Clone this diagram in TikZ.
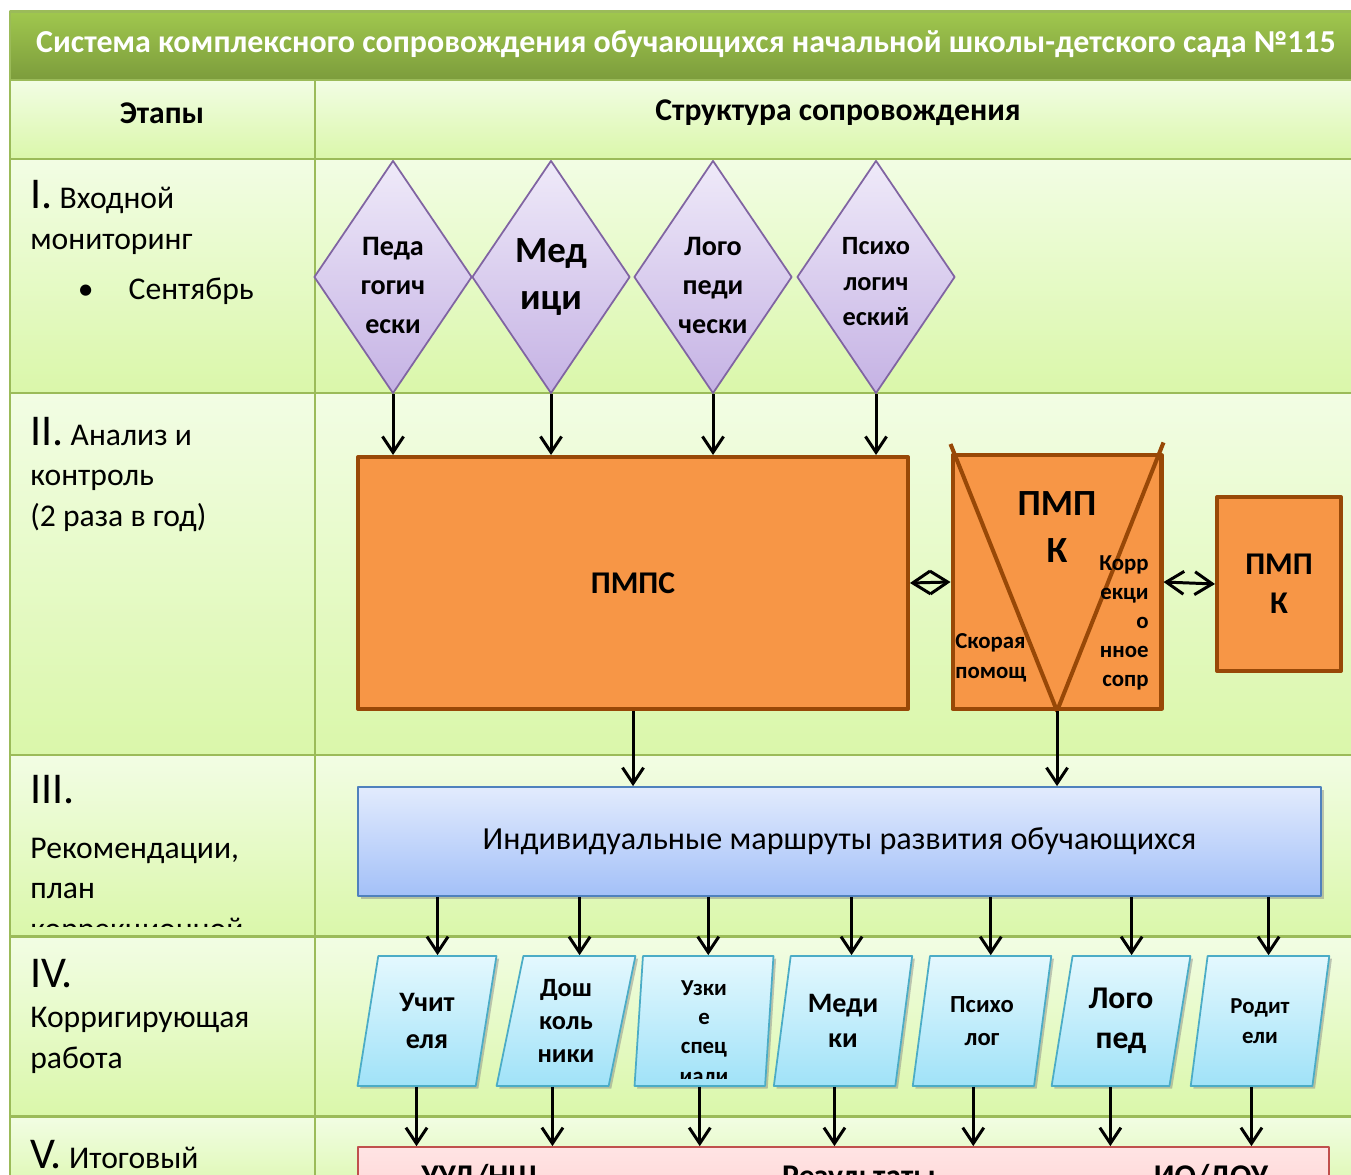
\documentclass[tikz,border=0pt]{standalone}
\usepackage{fontspec}
\setmainfont{Carlito}
\usetikzlibrary{shapes.geometric,arrows.meta,shadows}
\definecolor{barTop}{HTML}{A0C74E}
\definecolor{barBot}{HTML}{7C9C3C}
\definecolor{rowTop}{HTML}{F2FDE4}
\definecolor{rowBot}{HTML}{DAF7AA}
\definecolor{gridline}{HTML}{9BBB59}
\definecolor{orangefill}{HTML}{F79646}
\definecolor{orangeline}{HTML}{984807}
\definecolor{lilacTop}{HTML}{EFEAF9}
\definecolor{lilacBot}{HTML}{C5B2E4}
\definecolor{lilacline}{HTML}{8064A2}
\definecolor{blueTop}{HTML}{E2EBFD}
\definecolor{blueBot}{HTML}{A3C0F8}
\definecolor{blueline}{HTML}{4F81BD}
\definecolor{cyanTop}{HTML}{E4F8FE}
\definecolor{cyanBot}{HTML}{A0E2F8}
\definecolor{cyanline}{HTML}{4BACC6}
\definecolor{pinkTop}{HTML}{FFE4E4}
\definecolor{pinkBot}{HTML}{FFCACA}
\definecolor{pinkline}{HTML}{C0504D}
\tikzset{
  row/.style={top color=rowTop,bottom color=rowBot,draw=gridline,line width=1.7pt},
  stagetext/.style={anchor=base west,align=left,inner sep=0pt,font=\mdseries\fontsize{18}{23}\selectfont},
  rhomb/.style={diamond,shape aspect=0.665,inner sep=0pt,draw=lilacline,line width=1pt,
    top color=lilacTop,bottom color=lilacBot,minimum width=3.16cm,minimum height=4.66cm,align=center},
  orangebox/.style={draw=orangeline,fill=orangefill,line width=2.3pt,align=center},
  slanted/.style={trapezium,trapezium left angle=78,trapezium right angle=102,trapezium stretches=true,
    minimum width=2.78cm,minimum height=2.6cm,inner sep=0pt,draw=cyanline,line width=1pt,
    top color=cyanTop,bottom color=cyanBot,align=center,
    drop shadow={shadow xshift=1.5pt,shadow yshift=-1.5pt,opacity=0.45}},
  arr/.style={line width=1.7pt,-{Straight Barb[length=9pt,width=12pt,line width=1.7pt]}},
  dbl/.style={line width=1.7pt,{Straight Barb[length=10pt,width=13pt,line width=1.7pt]}-{Straight Barb[length=10pt,width=13pt,line width=1.7pt]}}
}
\newcommand{\rnum}[1]{{\fontsize{25}{25}\selectfont #1}}
\begin{document}
\begin{tikzpicture}[x=0.02cm,y=-0.02cm,line join=round,font=\bfseries\fontsize{18}{22}\selectfont]
\useasboundingbox (0,0) rectangle (1351,1175);
\clip (0,0) rectangle (1351,1175);
% table
\shade[top color=barTop,bottom color=barBot] (10,12) rectangle (1360,80);
\draw[gridline,line width=1.7pt] (10,80) -- (10,12) -- (1360,12);
\foreach \ya/\yb in {80/159,159/393,393/755,755/936,936/1116,1116/1200}
  \draw[row] (10,\ya) rectangle (315,\yb) (315,\ya) rectangle (1360,\yb);
\node[text=white,font=\bfseries\fontsize{18.2}{22}\selectfont] (title) at (686,44) {Система комплексного сопровождения обучающихся начальной школы-детского сада №115};
\node (hdrstage) at (162,113) {Этапы};
\node (hdrstruct) at (838,113) {Структура сопровождения};
% stages (anchored at the last baseline)
\node[stagetext] (st1) at (30,300) {\rnum{I.} Входной\\мониторинг\\[6pt]\hspace*{27pt}\textbullet\hspace{20pt}Сентябрь};
\node[stagetext] (st2) at (30,526) {\rnum{II.} Анализ и\\контроль\\(2 раза в год)};
\begin{scope}
  \clip (12,757) rectangle (313,926);
  \node[stagetext] (st3) at (30,939) {\rnum{III.}\\[8pt]Рекомендации,\\план\\коррекционной};
\end{scope}
\node[stagetext] (st4) at (30,1068) {\rnum{IV.}\\Корригирующая\\работа};
\node[stagetext] (st5) at (30,1168) {\rnum{V.} Итоговый};
% diagnostics
\foreach \n/\x/\fs/\ls/\t in {d1/393/16/22/{\rule{0pt}{20pt}Педа\\гогич\\ески},d2/551/21/27/{Мед\\ици},
    d3/713/16/22/{\rule{0pt}{20pt}Лого\\педи\\чески},d4/876/15/20/{\rule{0pt}{15pt}Психо\\логич\\еский}}
  \node[rhomb,font=\bfseries\fontsize{\fs}{\ls}\selectfont] (\n) at (\x,277) {\t};
\node[orangebox,minimum width=11cm,minimum height=5.04cm] (pmps) at (633,583) {ПМПС};
\node[orangebox,minimum width=4.18cm,minimum height=5.08cm] (pmpk) at (1057,582) {};
\draw[orangeline,line width=2.3pt] (pmpk.north west) ++(0,-9) -- (pmpk.south) -- ([yshift=6pt]pmpk.north east);
\node[align=center,font=\bfseries\fontsize{21}{27}\selectfont] (pmpktitle) at (1057,527) {ПМП\\К};
\node[align=right,anchor=east,inner sep=0pt,font=\bfseries\fontsize{13}{16.5}\selectfont] (korr) at (1149,623) {Корр\\екци\\о\\нное\\сопр};
\node[align=left,anchor=west,inner sep=0pt,font=\bfseries\fontsize{13}{17}\selectfont] (skor) at (955,658) {Скорая\\помощ};
\node[orangebox,minimum width=2.48cm,minimum height=3.48cm] (pmpk2) at (1279,584) {ПМП\\К};
\foreach \n in {d1,d2,d3,d4}
  \draw[arr] (\n.south) -- (\n.south |- pmps.north);
\draw[dbl] (pmps.east) -- (pmpk.west);
\draw[dbl] (pmpk.east) -- (pmpk2.west);
% routes
\node[draw=blueline,line width=1pt,top color=blueTop,bottom color=blueBot,minimum width=19.26cm,minimum height=2.18cm,
  font=\mdseries\fontsize{18.3}{22}\selectfont,drop shadow={shadow xshift=1.5pt,shadow yshift=-1.5pt,opacity=0.45}]
  (routes) at (839.5,841.5) {Индивидуальные маршруты развития обучающихся};
\draw[arr] (pmps.south) -- (pmps.south |- routes.north);
\draw[arr] (pmpk.south) -- (pmpk.south |- routes.north);
% specialists
\foreach \n/\x/\fs/\ls/\t in {p1/427/16/21/{Учит\\еля},p2/566/15/19/{Дош\\коль\\ники},p3/704/13/17/{\phantom{спец}},
    p4/843/16/20/{Меди\\ки},p5/982/14/19/{Психо\\лог},p6/1121/18/23/{Лого\\пед},p7/1260/13/17/{Родит\\ели}}
  \node[slanted,font=\bfseries\fontsize{\fs}{\ls}\selectfont] (\n) at (\x,1021) {\t};
\begin{scope}
  \clip (p3.top left corner) -- (p3.top right corner) -- ([yshift=4.5pt]p3.bottom right corner) -- ([yshift=4.5pt]p3.bottom left corner) -- cycle;
  \node[align=center,font=\bfseries\fontsize{13}{16.6}\selectfont] (p3text) at (704,1032) {Узки\\е\\спец\\иали};
\end{scope}
\node[draw=pinkline,line width=1pt,top color=pinkTop,bottom color=pinkBot,minimum width=19.42cm,minimum height=2cm] (result) at (843.5,1197) {};
\node[anchor=base] (resA) at (479,1186) {УУД/НШ};
\node[anchor=base west] (resB) at (776,1186) {Результаты};
\node[anchor=base] (resC) at (1211,1186) {ИО/ДОУ};
\foreach \n in {p1,p2,p3,p4,p5,p6,p7} {
  \draw[arr] (\n.top side |- routes.south) -- (\n.top side);
  \draw[arr] (\n.bottom side) -- (\n.bottom side |- result.north);
}
\end{tikzpicture}
\end{document}
